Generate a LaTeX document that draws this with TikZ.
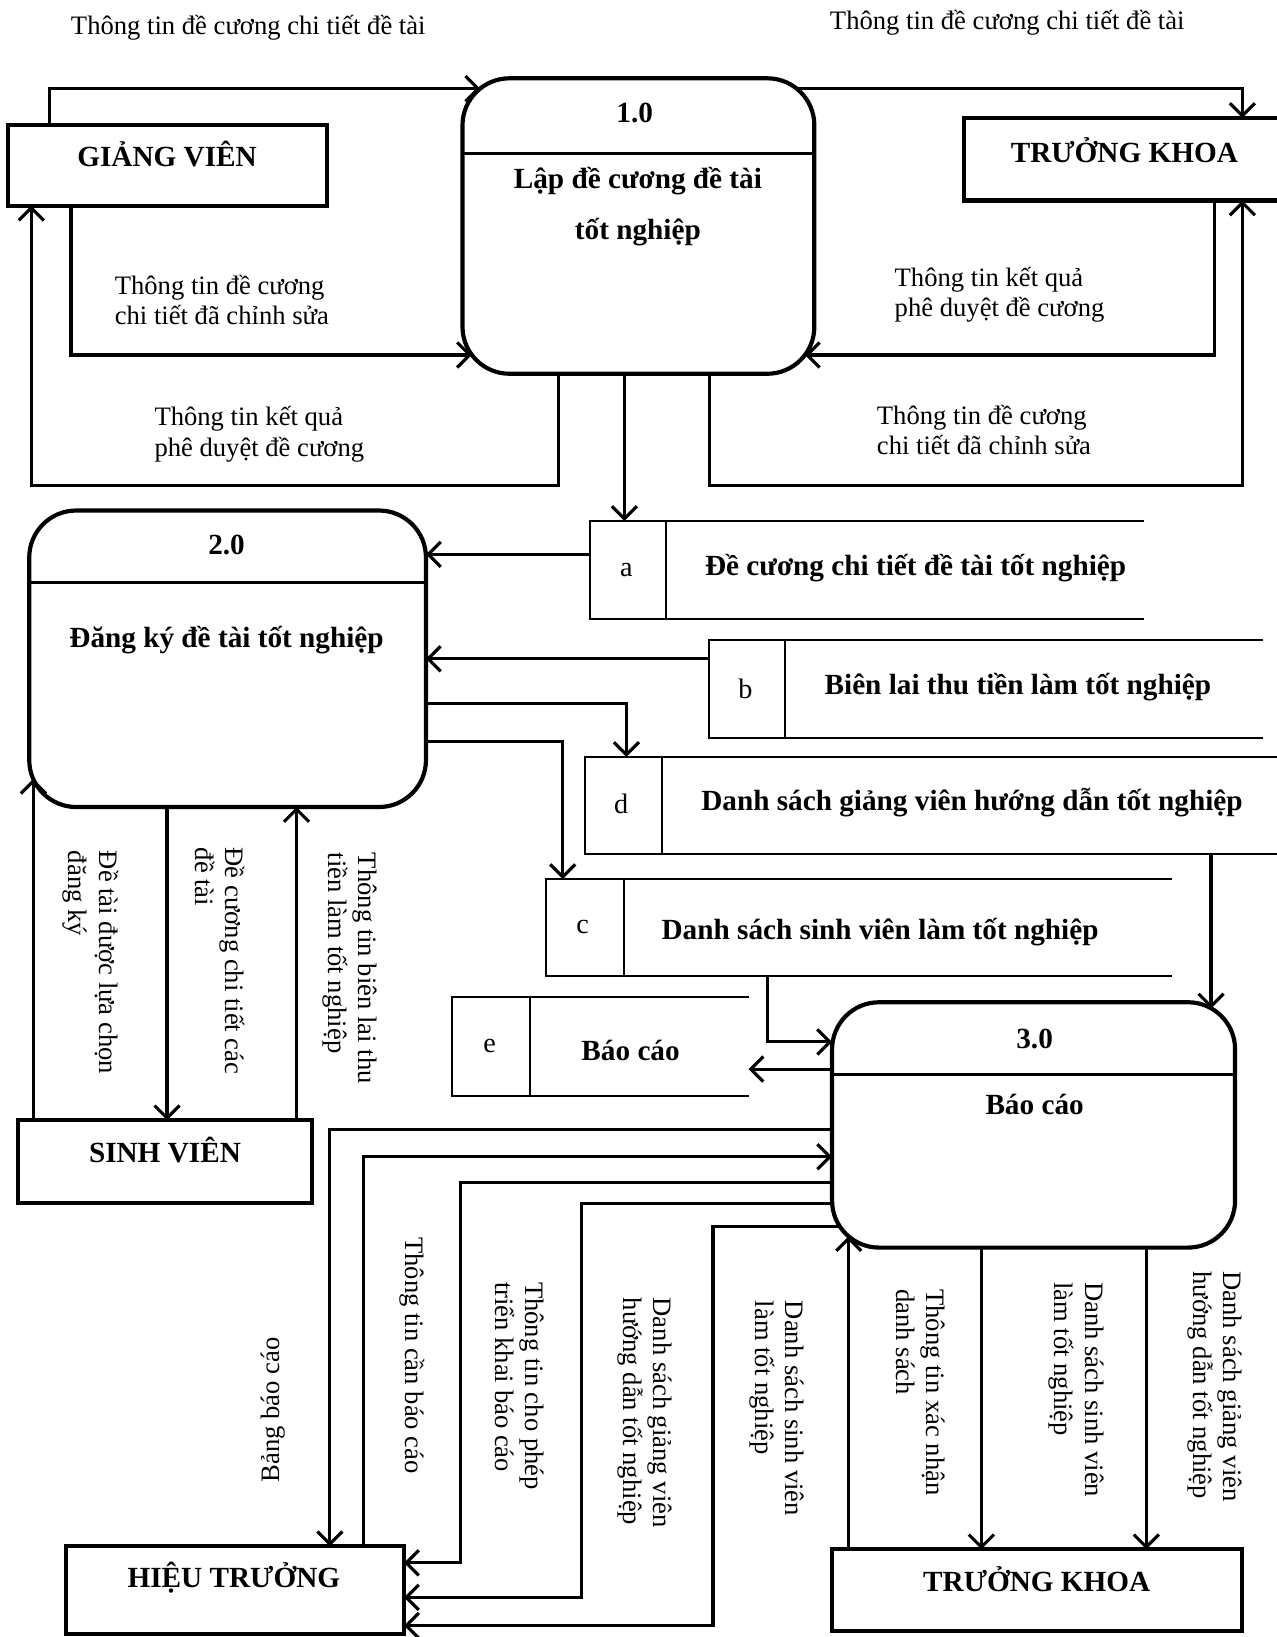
\documentclass[tikz,border=0pt]{standalone}
\usepackage{fontspec}
\setmainfont{Liberation Serif}
\usetikzlibrary{arrows.meta}
\begin{document}
\begin{tikzpicture}[x=1pt,y=-1pt,
  every node/.style={inner sep=0pt, outer sep=0pt},
  ent/.style={draw, line width=4pt, rectangle},
  proc/.style={draw, line width=4pt, rectangle, rounded corners=45pt},
  store/.style={rectangle},
  stline/.style={line width=2pt},
  divline/.style={line width=2.5pt},
  flow/.style={line width=3pt, -{Straight Barb[length=12pt,width=24pt]}},
  lbl/.style={font=\fontsize{25.5}{29}\selectfont, align=left},
  btxt/.style={font=\fontsize{28}{32}\selectfont\bfseries},
  rtxt/.style={font=\fontsize{27}{30}\selectfont},
]
\useasboundingbox (0,0) rectangle (1223,1568);

% ---------- external entities ----------
\node[ent, minimum width=305, minimum height=77] (gv) at (160.5,158.5) {};
\node[btxt] (gvt) at (160,148) {GIẢNG VIÊN};
\node[ent, minimum width=305, minimum height=79] (tk1) at (1075.5,152.5) {};
\node[btxt] (tk1t) at (1077,144) {TRƯỞNG KHOA};
\node[ent, minimum width=282, minimum height=79] (sv) at (158,1112.5) {};
\node[btxt] (svt) at (158,1102) {SINH VIÊN};
\node[ent, minimum width=324, minimum height=84] (ht) at (225,1523) {};
\node[btxt] (htt) at (224,1511) {HIỆU TRƯỞNG};
\node[ent, minimum width=393, minimum height=78] (tk2) at (993.5,1523) {};
\node[btxt] (tk2t) at (993,1513) {TRƯỞNG KHOA};

% ---------- processes ----------
\node[proc, minimum width=337, minimum height=283] (p1) at (611.5,216.5) {};
\draw[divline] (p1.west |- 0,147) -- (p1.east |- 0,147);
\node[btxt] (p1n) at (608,108) {1.0};
\node[btxt] (p1a) at (611,173) {Lập đề cương đề tài};
\node[btxt] (p1b) at (611,222) {tốt nghiệp};

\node[proc, minimum width=380, minimum height=284] (p2) at (218,631) {};
\draw[divline] (p2.west |- 0,558) -- (p2.east |- 0,558);
\node[btxt] (p2n) at (217,522) {2.0};
\node[btxt] (p2a) at (217,613) {Đăng ký đề tài tốt nghiệp};

\node[proc, minimum width=386, minimum height=235] (p3) at (990,1077.5) {};
\draw[divline] (p3.west |- 0,1029) -- (p3.east |- 0,1029);
\node[btxt] (p3n) at (991,995) {3.0};
\node[btxt] (p3a) at (991,1058) {Báo cáo};

% ---------- data stores ----------
\node[store, minimum width=531, minimum height=94] (sa) at (830.5,546) {};
\draw[stline] (sa.north east) -- (sa.north west) -- (sa.south west) -- (sa.south east);
\draw[stline] (638,0 |- sa.north) -- (638,0 |- sa.south);
\node[rtxt] (sal) at (600,546) {a};
\node[btxt] (sat) at (877,544) {Đề cương chi tiết đề tài tốt nghiệp};

\node[store, minimum width=531, minimum height=94] (sb) at (944.5,660) {};
\draw[stline] (sb.north east) -- (sb.north west) -- (sb.south west) -- (sb.south east);
\draw[stline] (752,0 |- sb.north) -- (752,0 |- sb.south);
\node[rtxt] (sbl) at (714,660) {b};
\node[btxt] (sbt) at (975,658) {Biên lai thu tiền làm tốt nghiệp};

\node[store, minimum width=666, minimum height=93] (sd) at (893,771.5) {};
\draw[stline] (sd.north east) -- (sd.north west) -- (sd.south west) -- (sd.south east);
\draw[stline] (634,0 |- sd.north) -- (634,0 |- sd.south);
\node[rtxt] (sdl) at (595,770) {d};
\node[btxt] (sdt) at (931,769) {Danh sách giảng viên hướng dẫn tốt nghiệp};

\node[store, minimum width=600, minimum height=93] (sc) at (823,888.5) {};
\draw[stline] (sc.north east) -- (sc.north west) -- (sc.south west) -- (sc.south east);
\draw[stline] (598,0 |- sc.north) -- (598,0 |- sc.south);
\node[rtxt] (scl) at (558,888) {c};
\node[btxt] (sct) at (843,893) {Danh sách sinh viên làm tốt nghiệp};

\node[store, minimum width=284, minimum height=95] (se) at (575,1002.5) {};
\draw[stline] (se.north east) -- (se.north west) -- (se.south west) -- (se.south east);
\draw[stline] (508,0 |- se.north) -- (508,0 |- se.south);
\node[rtxt] (sel) at (469,1002) {e};
\node[btxt] (set) at (604,1006) {Báo cáo};

% ---------- contact points on rounded corners ----------
\coordinate (c1) at (460,85);
\coordinate (c2) at (763,85);
\coordinate (c3) at (452,340);
\coordinate (c4) at (771,340);
\coordinate (c5) at (32,746);
\coordinate (c6) at (1160,966);
\coordinate (c7) at (805,1175);
\coordinate (c8) at (813,1184);

% ---------- flows ----------
\draw[flow] (47,0 |- gv.north) |- (c1);
\draw[flow] (c2) -| (1190,0 |- tk1.north);
\draw[flow] (68,0 |- gv.south) |- (c3);
\draw[flow] (535,0 |- p1.south) |- (30,465) -- (30,0 |- gv.south);
\draw[flow] (1163,0 |- tk1.south) |- (c4);
\draw[flow] (680,0 |- p1.south) |- (1190,465) -- (1190,0 |- tk1.south);
\draw[flow] (598,0 |- p1.south) -- (598,0 |- sa.north);
\draw[flow] (sa.west |- 0,531) -- (p2.east |- 0,531);
\draw[flow] (sb.west |- 0,631) -- (p2.east |- 0,631);
\draw[flow] (p2.east |- 0,674) -| (600,0 |- sd.north);
\draw[flow] (p2.east |- 0,710) -| (539,0 |- sc.north);
\draw[flow] (1160,0 |- sd.south) -- (c6);
\draw[flow] (735,0 |- sc.south) |- (p3.west |- 0,998);
\draw[flow] (p3.west |- 0,1024) -- (se.east |- 0,1024);
\draw[flow] (32,0 |- sv.north) -- (c5);
\draw[flow] (160,0 |- p2.south) -- (160,0 |- sv.north);
\draw[flow] (284,0 |- sv.north) -- (284,0 |- p2.south);
\draw[flow] (p3.west |- 0,1082) -| (316,0 |- ht.north);
\draw[flow] (348,0 |- ht.north) |- (p3.west |- 0,1108);
\draw[flow] (p3.west |- 0,1133) -| (441,1497) -- (ht.east |- 0,1497);
\draw[flow] (p3.west |- 0,1153) -| (557,1530) -- (ht.east |- 0,1530);
\draw[flow] (c7) -| (683,1557) -- (ht.east |- 0,1557);
\draw[flow] (813,0 |- tk2.north) -- (c8);
\draw[flow] (940,0 |- p3.south) -- (940,0 |- tk2.north);
\draw[flow] (1098,0 |- p3.south) -- (1098,0 |- tk2.north);

% ---------- horizontal labels ----------
\node[lbl, anchor=west] (l1) at (68,27) {Thông tin đề cương chi tiết đề tài};
\node[lbl, anchor=west] (l2) at (795,22) {Thông tin đề cương chi tiết đề tài};
\node[lbl, anchor=west] (l3) at (110,287.5) {Thông tin đề cương\\chi tiết đã chỉnh sửa};
\node[lbl, anchor=west] (l4) at (148,416) {Thông tin kết quả\\phê duyệt đề cương};
\node[lbl, anchor=west] (l5) at (857,282) {Thông tin kết quả\\phê duyệt đề cương};
\node[lbl, anchor=west] (l6) at (840,412) {Thông tin đề cương\\chi tiết đã chỉnh sửa};

% ---------- vertical labels ----------
\node[lbl, anchor=west, rotate=-90] (v1) at (87,815) {Đề tài được lựa chọn\\đăng ký};
\node[lbl, anchor=west, rotate=-90] (v2) at (211,812) {Đề cương chi tiết các\\đề tài};
\node[lbl, anchor=west, rotate=-90] (v3) at (335,817) {Thông tin biên lai thu\\tiền làm tốt nghiệp};
\node[lbl, anchor=west, rotate=90] (v4) at (262,1420) {Bảng báo cáo};
\node[lbl, anchor=west, rotate=-90] (v5) at (395,1185) {Thông tin cần báo cáo};
\node[lbl, anchor=west, rotate=-90] (v6) at (498,1228) {Thông tin cho phép\\triển khai báo cáo};
\node[lbl, anchor=west, rotate=-90] (v7) at (618,1243) {Danh sách giảng viên\\hướng dẫn tốt nghiệp};
\node[lbl, anchor=west, rotate=-90] (v8) at (744,1246) {Danh sách sinh viên\\làm tốt nghiệp};
\node[lbl, anchor=west, rotate=-90] (v9) at (882,1235) {Thông tin xác nhận\\danh sách};
\node[lbl, anchor=west, rotate=-90] (v10) at (1031,1228) {Danh sách sinh viên\\làm tốt nghiệp};
\node[lbl, anchor=west, rotate=-90] (v11) at (1164,1218) {Danh sách giảng viên\\hướng dẫn tốt nghiệp};
\end{tikzpicture}
\end{document}
